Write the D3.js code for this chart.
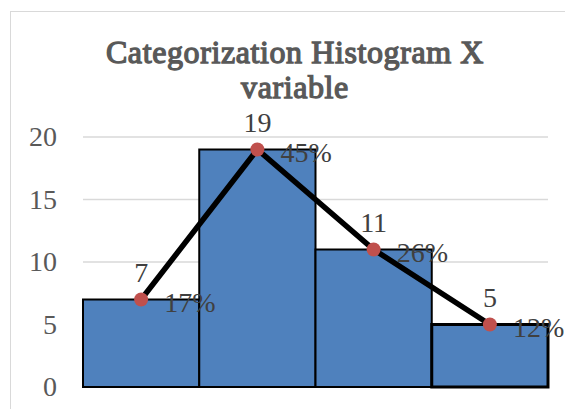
<!DOCTYPE html>
<html>
<head>
<meta charset="utf-8">
<script src="https://cdn.jsdelivr.net/npm/d3@7"></script>
<style>
  body { margin: 0; background: #fff; }
  text { font-family: "Liberation Serif", "Times New Roman", serif; }
</style>
</head>
<body>
<div class="canvas"></div>
<script>
// Data
const categories = ['A', 'B', 'C', 'D'];
const counts = [7, 19, 11, 5];
const percents = ['17%', '45%', '26%', '12%'];
const yTicks = [0, 5, 10, 15, 20];

const dims = { width: 565, height: 409 };
const plot = { left: 83, right: 548, top: 137, bottom: 387 };

const svg = d3.select('.canvas')
    .append('svg')
    .attr('width', dims.width)
    .attr('height', dims.height);

// chart frame
svg.append('rect')
    .attr('x', 10.5).attr('y', 11.5)
    .attr('width', 580).attr('height', 420)
    .attr('fill', '#fff')
    .attr('stroke', '#d9d9d9')
    .attr('stroke-width', 1);

// Title (bold serif face is not installed, so thicken the regular one with a stroke)
const title = svg.append('text')
    .attr('text-anchor', 'middle')
    .attr('fill', '#595959')
    .attr('stroke', '#595959')
    .attr('stroke-width', 1.3)
    .attr('letter-spacing', 0.6)
    .style('font-size', '32px');
title.append('tspan').attr('x', 295).attr('y', 63).text('Categorization Histogram X');
title.append('tspan').attr('x', 295).attr('y', 98).text('variable');

const x = d3.scaleBand()
    .domain(categories)
    .range([plot.left, plot.right])
    .padding(0);

const y = d3.scaleLinear()
    .domain([0, 20])
    .range([plot.bottom, plot.top]);

// Gridlines
svg.append('g')
    .selectAll('line')
    .data(yTicks.filter(d => d > 0))
    .enter().append('line')
        .attr('x1', plot.left).attr('x2', plot.right)
        .attr('y1', d => y(d)).attr('y2', d => y(d))
        .attr('stroke', '#d9d9d9')
        .attr('stroke-width', 1.5);

// Y axis labels
const yAxis = d3.axisLeft(y).tickValues(yTicks).tickSize(0).tickPadding(0);
const yg = svg.append('g')
    .attr('transform', `translate(57, 0)`)
    .call(yAxis);
yg.select('.domain').remove();
yg.selectAll('text')
    .attr('fill', '#595959')
    .attr('font-size', 28)
    .attr('font-family', '"Liberation Serif", "Times New Roman", serif');

// Bars
svg.append('g')
    .selectAll('rect')
    .data(counts)
    .enter().append('rect')
        .attr('x', (d, i) => x(categories[i]))
        .attr('y', d => y(d))
        .attr('width', x.bandwidth())
        .attr('height', d => y(0) - y(d))
        .attr('fill', '#4f81bd')
        .attr('stroke', '#000')
        .attr('stroke-width', (d, i) => i === counts.length - 1 ? 3 : 2);

// Frequency polygon
const line = d3.line()
    .x((d, i) => x(categories[i]) + x.bandwidth() / 2)
    .y(d => y(d));

svg.append('path')
    .datum(counts)
    .attr('d', line)
    .attr('fill', 'none')
    .attr('stroke', '#000')
    .attr('stroke-width', 5.5)
    .attr('stroke-linejoin', 'miter');

svg.append('g')
    .selectAll('circle')
    .data(counts)
    .enter().append('circle')
        .attr('cx', (d, i) => x(categories[i]) + x.bandwidth() / 2)
        .attr('cy', d => y(d))
        .attr('r', 7)
        .attr('fill', '#c0504d');

// Value labels
svg.append('g')
    .selectAll('text')
    .data(counts)
    .enter().append('text')
        .attr('x', (d, i) => x(categories[i]) + x.bandwidth() / 2)
        .attr('y', d => y(d) - 18)
        .attr('text-anchor', 'middle')
        .attr('fill', '#404040')
        .attr('font-size', 28)
        .text(d => d);

// Percent labels
svg.append('g')
    .selectAll('text')
    .data(counts)
    .enter().append('text')
        .attr('x', (d, i) => x(categories[i]) + x.bandwidth() / 2 + 23)
        .attr('y', d => y(d) + 12)
        .attr('fill', '#404040')
        .attr('font-size', 28)
        .text((d, i) => percents[i]);
</script>
</body>
</html>
